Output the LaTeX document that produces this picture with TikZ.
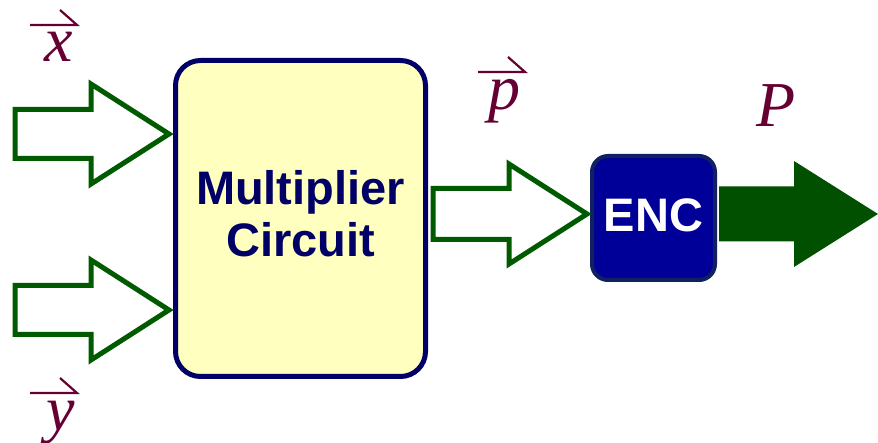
\documentclass[tikz,border=0pt]{standalone}
\usepackage{fontspec}
\setmainfont{Liberation Serif}
\setsansfont{Liberation Sans}
\usetikzlibrary{calc}
\definecolor{lbl}{HTML}{660033}
\definecolor{grn}{HTML}{005A00}
\definecolor{fillgrn}{HTML}{005000}
\definecolor{boxfill}{HTML}{FFFFC0}
\definecolor{navy}{HTML}{000066}
\definecolor{encfill}{HTML}{000099}
\definecolor{encdraw}{HTML}{102060}
\newcommand\blockarr[6]{%
  \path[#1] let \p1=(#2), \p2=(#3) in
    (\x1,\y1+#4pt) -- (\x2-#6pt,\y1+#4pt) -- (\x2-#6pt,\y2+#5pt) -- (\x2,\y2)
    -- (\x2-#6pt,\y2-#5pt) -- (\x2-#6pt,\y1-#4pt) -- (\x1,\y1-#4pt) -- cycle;}
\tikzset{
  hollowarr/.style={draw=grn, line width=5pt, fill=white},
  solidarr/.style={fill=fillgrn},
  vlabel/.style={text=lbl, font=\itshape\fontsize{64}{64}\selectfont, inner sep=0pt, anchor=base},
  harp/.style={draw=lbl, line width=2.2pt},
  blocktext/.style={font=\sffamily\bfseries\fontsize{47}{52}\selectfont, align=center, inner sep=0pt}
}
\begin{document}
\begin{tikzpicture}[x=1pt,y=-1pt]
\useasboundingbox (0,0) rectangle (878,443);
% blocks
\node[draw=navy, line width=5pt, fill=boxfill, rounded corners=25pt,
      minimum width=250pt, minimum height=316pt] (mult) at (300.5,218.5) {};
\node[blocktext, text=navy] (multtext) at ($(mult)+(0,-5)$) {Multiplier\\Circuit};
\node[draw=encdraw, line width=4pt, fill=encfill, rounded corners=16pt,
      minimum width=123pt, minimum height=124pt] (enc) at (653.5,218) {};
\node[blocktext, text=white] (enctext) at ($(enc)+(0,-3)$) {ENC};
% coordinates
\coordinate (xs) at (15,134);
\coordinate (xt) at ($(mult.west|-xs)+(-4,0)$);
\coordinate (ys) at (15,310);
\coordinate (yt) at ($(mult.west|-ys)+(-4,0)$);
\coordinate (ps) at ($(mult.east)+(5,-4.5)$);
\coordinate (pt) at ($(enc.west|-ps)+(-3,0)$);
\coordinate (es) at ($(enc.east|-ps)+(2,0)$);
\coordinate (et) at (878,214);
% arrows
\blockarr{hollowarr}{xs}{xt}{24.5}{50}{78}
\blockarr{hollowarr}{ys}{yt}{24.5}{50}{78}
\blockarr{hollowarr}{ps}{pt}{25.5}{50}{78}
\blockarr{solidarr}{es}{et}{27.5}{53}{84}
% labels
\node[vlabel] (xl) at (59,62) {x};
\draw[harp] (30,25) -- (77,25) -- (60,10);
\node[vlabel] (yl) at (61,430) {y};
\draw[harp] (30,393) -- (77,393) -- (60,378);
\node[vlabel] (pl) at (504,110) {p};
\draw[harp] (478,72) -- (525,72) -- (508,57);
\node[vlabel] (Pl) at (776,127) {P};
\end{tikzpicture}
\end{document}
